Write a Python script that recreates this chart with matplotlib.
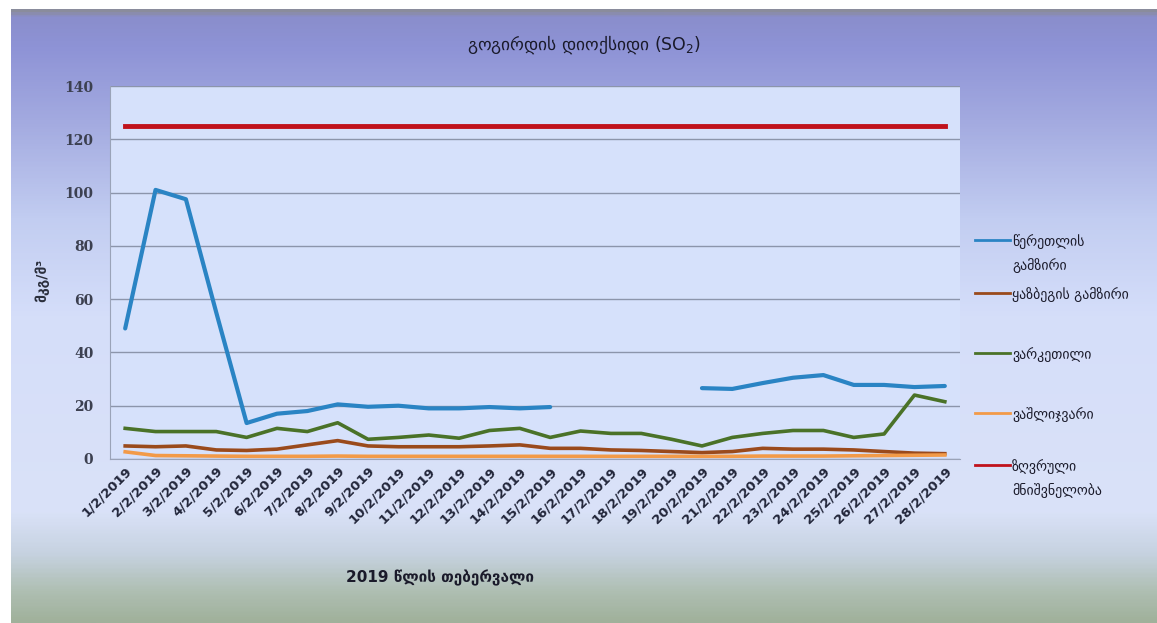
import matplotlib.pyplot as plt
import numpy as np
from matplotlib.colors import LinearSegmentedColormap
from matplotlib.lines import Line2D

plt.rcParams['font.family'] = ['DejaVu Sans']

days = [f"{d}/2/2019" for d in range(1, 29)]

tsereteli = [49, 101, 97.5, 55, 13.5, 17, 18, 20.5, 19.6, 20, 19, 19, 19.5, 19, 19.5,
             None, None, None, None,
             26.6, 26.3, 28.5, 30.5, 31.5, 27.8, 27.8, 27, 27.4]
kazbegi = [4.9, 4.6, 4.9, 3.4, 3.2, 3.7, 5.3, 6.9, 4.9, 4.6, 4.6, 4.6, 4.9, 5.3, 4.0,
           4.0, 3.4, 3.2, 2.8, 2.4, 2.8, 4.0, 3.7, 3.7, 3.4, 2.8, 2.2, 2.0]
varketili = [11.5, 10.3, 10.3, 10.3, 8.1, 11.5, 10.3, 13.6, 7.4, 8.1, 9.0, 7.8, 10.7, 11.5, 8.1,
             10.5, 9.6, 9.6, 7.4, 4.9, 8.1, 9.6, 10.7, 10.7, 8.1, 9.4, 24, 21.5]
vashlijvari = [2.7, 1.3, 1.2, 1.1, 1.0, 1.0, 1.0, 1.1, 1.0, 1.0, 1.0, 1.0, 1.0, 1.0, 1.0,
               1.0, 1.0, 1.0, 1.0, 1.0, 1.0, 1.1, 1.1, 1.1, 1.2, 1.3, 1.4, 1.5]
limit = [125] * 28

labels = ["წერეთლის\nგამზირი", "ყაზბეგის გამზირი", "ვარკეთილი", "ვაშლიჯვარი",
          "ზღვრული\nმნიშვნელობა"]
colors = ["#2a84c4", "#9a4a1c", "#4a7228", "#f29a48", "#c0121c"]

W, H = 1157, 623
fig = plt.figure(figsize=(W / 100, H / 100), dpi=100)
fig.patch.set_facecolor("white")

# gradient backdrop behind the chart
bg = fig.add_axes([11 / W, 0, 1 - 11 / W, 1 - 9 / H])
bg_cmap = LinearSegmentedColormap.from_list("bg", [
    (0.0, "#8a8c9c"), (0.01, "#8a8ecc"), (0.06, "#8e93d6"), (0.18, "#a3aae0"),
    (0.34, "#c2cdf1"), (0.5, "#d5defa"), (0.82, "#dae2f8"), (0.89, "#c6d2e0"),
    (0.95, "#afbfb3"), (1.0, "#a0b19b")])
bg.imshow(np.linspace(0, 1, 400).reshape(-1, 1), aspect="auto", cmap=bg_cmap,
          extent=[0, 1, 0, 1])
bg.set_axis_off()

ax = fig.add_axes([110 / W, 1 - 459 / H, 850 / W, 373 / H])
ax.set_facecolor("#d6e1fb")
x = np.arange(len(days))

def series(vals):
    return np.array([np.nan if v is None else v for v in vals], dtype=float)

ax.plot(x, series(tsereteli), color=colors[0], lw=3, solid_capstyle="round")
ax.plot(x, kazbegi, color=colors[1], lw=2.6)
ax.plot(x, varketili, color=colors[2], lw=2.6)
ax.plot(x, vashlijvari, color=colors[3], lw=2.6)
ax.plot(x, limit, color=colors[4], lw=3.5)

ax.set_xlim(-0.5, len(days) - 0.5)
ax.set_ylim(0, 140)
ax.set_yticks(range(0, 141, 20))
ax.yaxis.grid(True, color="#8c95ab", lw=1)
ax.set_axisbelow(True)
for s in ["top", "right"]:
    ax.spines[s].set_visible(False)
ax.spines["left"].set_color("#9aa3b8")
ax.spines["bottom"].set_color("#9aa3b8")
ax.tick_params(axis="y", length=0, pad=12, labelsize=10, labelcolor="#3c4050")
ax.tick_params(axis="x", length=0, pad=4, labelsize=9.5, labelcolor="#22263a")
for t in ax.get_yticklabels():
    t.set_family("DejaVu Serif")
    t.set_fontweight("bold")
ax.set_xticks(x)
ax.set_xticklabels(days, rotation=45, ha="right", rotation_mode="anchor",
                   fontweight="bold")

fig.text(584 / W, 1 - 45 / H, "გოგირდის დიოქსიდი (SO$_2$)", ha="center",
         va="center", fontsize=12.5, color="#1a1a2a")
fig.text(42 / W, 1 - 280 / H, "მკგ/მ³", rotation=90, ha="center", va="center",
         fontsize=10, fontweight="bold", color="#2a2e3c")
fig.text(440 / W, 1 - 578 / H, "2019 წლის თებერვალი", ha="center", va="center",
         fontsize=11, fontweight="bold", color="#1a1a2a")

# legend: key line sits level with the first line of each label
legend_rows = [240, 293, 353, 413, 465]
for lab, col, ry in zip(labels, colors, legend_rows):
    yf = 1 - ry / H
    fig.add_artist(Line2D([975 / W, 1010 / W], [yf, yf], color=col, lw=2,
                          transform=fig.transFigure))
    fig.text(1012 / W, yf + 6 / H, lab, ha="left", va="top", fontsize=10,
             color="#1a1a2a", linespacing=1.75)

plt.savefig("out.png", dpi=100)
